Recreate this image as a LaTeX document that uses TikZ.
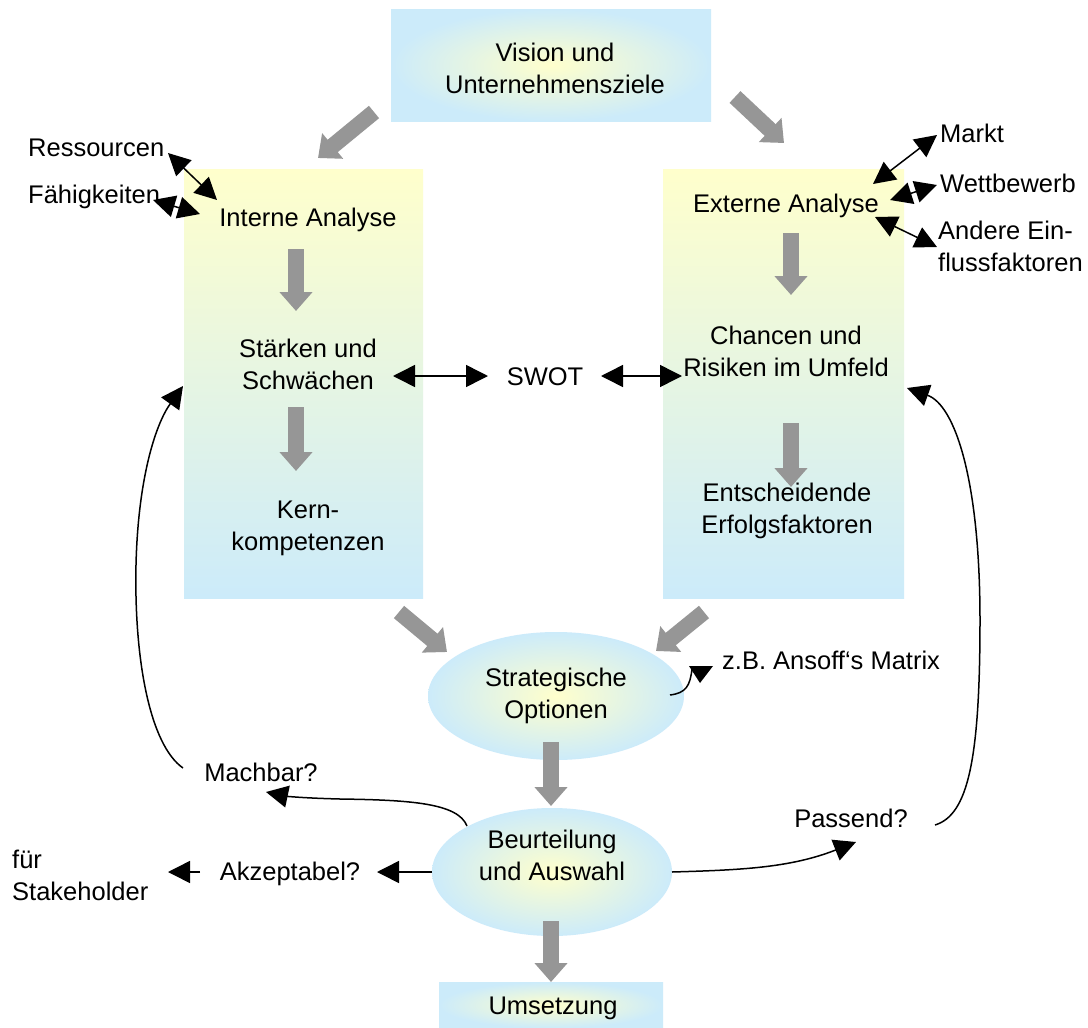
\documentclass[tikz,border=0pt]{standalone}
\usepackage{fontspec}
\setmainfont{Liberation Sans}
\usetikzlibrary{arrows.meta,shapes.geometric}
\definecolor{lblue}{RGB}{204,235,250}
\definecolor{lyell}{RGB}{255,255,204}
\definecolor{agray}{RGB}{150,150,150}
\begin{document}
\begin{tikzpicture}[x=1pt,y=-1pt,
  lbl/.style={font=\fontsize{25.5}{32}\selectfont, align=center, inner sep=0pt},
  lbll/.style={font=\fontsize{25.5}{32}\selectfont, align=left, inner sep=0pt, anchor=west},
  garrow/.style={draw=agray, line width=16pt, -{Triangle[width=32pt,length=19pt]}},
  barrow/.style={draw=black, line width=1.5pt, {Triangle[width=22pt,length=22pt]}-{Triangle[width=22pt,length=22pt]}},
  sarrow/.style={draw=black, line width=1.5pt, -{Triangle[width=22pt,length=22pt]}},
  vbox/.style={rectangle, inner sep=0pt, outer sep=0pt, top color=lyell, bottom color=lblue, draw=none},
  rbox/.style={inner sep=0pt, outer sep=0pt, inner color=lyell, outer color=lblue, draw=none}]
\useasboundingbox[fill=white] (0,0) rectangle (1088,1028);

% boxes
\node[rbox, rectangle, minimum width=320pt, minimum height=112pt] (vision) at (551,65) {};
\node[lbl] (visiont) at (555,68) {Vision und\\Unternehmensziele};
\node[vbox, minimum width=239pt, minimum height=429pt] (intbox) at (303.5,383.5) {};
\node[vbox, minimum width=241pt, minimum height=429pt] (extbox) at (783.5,383.5) {};
\node[rbox, ellipse, minimum width=256pt, minimum height=128pt] (strat) at (556,696) {};
\node[rbox, ellipse, minimum width=240pt, minimum height=128pt] (beurt) at (552,872) {};
\node[rbox, rectangle, minimum width=224pt, minimum height=46pt] (umsetz) at (551,1005) {};

% gray arrows
\coordinate (g1a) at (374,112); \coordinate (g1b) at (318,158);
\coordinate (g2a) at (735,97);  \coordinate (g2b) at (784,143);
\coordinate (g3a) at (296,249); \coordinate (g3b) at (296,311);
\coordinate (g4a) at (296,407); \coordinate (g4b) at (296,471);
\coordinate (g5a) at (791,233); \coordinate (g5b) at (791,295);
\coordinate (g6a) at (791,423); \coordinate (g6b) at (791,487);
\coordinate (g7a) at (399,612); \coordinate (g7b) at (447,652);
\coordinate (g8a) at (704,612); \coordinate (g8b) at (656,651);
\coordinate (g9a) at (551,742); \coordinate (g9b) at (551,806);
\coordinate (g10a) at (551,921); \coordinate (g10b) at (551,982);
\foreach \i in {1,...,10} {\draw[garrow] (g\i a) -- (g\i b);}

% texts
\node[lbl] (int) at (308,220) {Interne Analyse};
\node[lbl] (sw) at (308,364.5) {Stärken und\\Schwächen};
\node[lbl] (kern) at (308,528) {Kern-\\kompetenzen};
\node[lbl] (ext) at (786,206) {Externe Analyse};
\node[lbl] (cr) at (786,351) {Chancen und\\Risiken im Umfeld};
\node[lbl] (ef) at (787,511) {Entscheidende\\Erfolgsfaktoren};
\node[lbl] (swot) at (545,377) {SWOT};
\node[lbll] (ress) at (28,148) {Ressourcen};
\node[lbll] (faeh) at (28,197) {Fähigkeiten};
\node[lbll] (markt) at (940,133) {Markt};
\node[lbll] (wett) at (940,183) {Wettbewerb};
\node[lbll] (andere) at (938,246.5) {Andere Ein-\\flussfaktoren};
\node[lbl] (stratt) at (556,696) {Strategische\\Optionen};
\node[lbll] (ansoff) at (722,660) {z.B. Ansoff‘s Matrix};
\node[lbl] (beurtt) at (552,855) {Beurteilung\\und Auswahl};
\node[lbl] (umsetzt) at (553,1008) {Umsetzung};
\node[lbl] (machbar) at (261,772) {Machbar?};
\node[lbl] (akzept) at (290,874) {Akzeptabel?};
\node[lbll] (stake) at (12,875) {für\\Stakeholder};
\node[lbl] (passend) at (851,818) {Passend?};

% black double arrows
\coordinate (r1) at (168,153); \coordinate (r2) at (217,200);
\coordinate (f1) at (153,200); \coordinate (f2) at (200,214);
\coordinate (m1) at (937,135); \coordinate (m2) at (873,184);
\coordinate (w1) at (937,185); \coordinate (w2) at (890,200);
\coordinate (a1) at (875,217); \coordinate (a2) at (937,247);
\coordinate (s1) at (393,376); \coordinate (s2) at (488,376);
\coordinate (s3) at (601,376); \coordinate (s4) at (682,376);
\draw[barrow] (r1) -- (r2);
\draw[barrow] (f1) -- (f2);
\draw[barrow] (m1) -- (m2);
\draw[barrow] (w1) -- (w2);
\draw[barrow] (a1) -- (a2);
\draw[barrow] (s1) -- (s2);
\draw[barrow] (s3) -- (s4);

% single arrows
\coordinate (ak1) at (432,872); \coordinate (ak2) at (377,872);
\draw[sarrow] (ak1) -- (ak2);
\coordinate (st1) at (200,872); \coordinate (st2) at (168,872);
\draw[sarrow] (st1) -- (st2);
\coordinate (mb1) at (467,826); \coordinate (mb2) at (266,792);
\draw[sarrow] (mb1) .. controls (458,803) and (410,800) .. (340,799) .. controls (300,798) and (285,796) .. (mb2);
\coordinate (lf1) at (183,768); \coordinate (lf2) at (183,386);
\draw[sarrow] (lf1) .. controls (150,745) and (134,660) .. (136,565) .. controls (138,480) and (155,425) .. (lf2);
\coordinate (rf1) at (935,825); \coordinate (rf2) at (907,388);
\draw[sarrow] (rf1) .. controls (968,815) and (980,760) .. (980,620) .. controls (980,480) and (955,405) .. (rf2);
\coordinate (ps1) at (672,872); \coordinate (ps2) at (856,842);
\draw[sarrow] (ps1) .. controls (740,870) and (790,868) .. (ps2);
\coordinate (an1) at (670,695); \coordinate (an2) at (692,669);
\draw[line width=1.5pt] (an1) .. controls (686,693) and (690,686) .. (an2);
\fill (689,666) -- (713,666) -- (700,683) -- cycle;
\end{tikzpicture}
\end{document}
